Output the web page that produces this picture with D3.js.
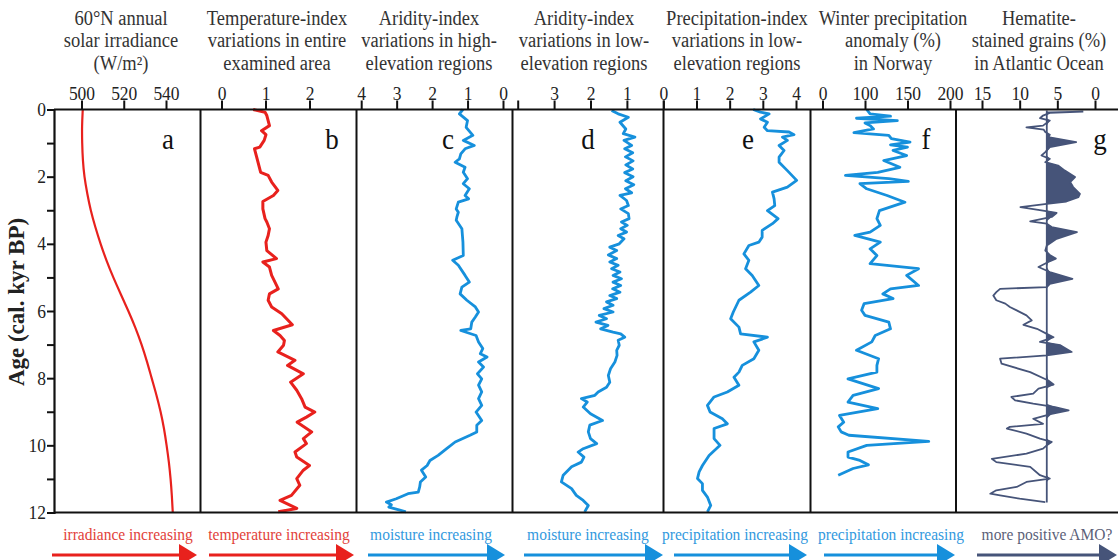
<!DOCTYPE html>
<html>
<head>
<meta charset="utf-8">
<script src="https://cdn.jsdelivr.net/npm/d3@7"></script>
<style>
	body { margin: 0; background: #fff; }
	svg text { font-family: "Liberation Serif", "Times New Roman", serif; }
	svg text.tall { transform-box: fill-box; transform-origin: center; transform: scaleY(1.08); }
</style>
</head>
<body>
<div id="chart"></div>
<script>
// age axis
const ageTicks = [0,1,2,3,4,5,6,7,8,9,10,11,12];

// a: 60N annual solar irradiance
const aAge = [0,0.5,1,1.5,2,2.5,3,3.5,4,4.5,5,5.5,6,6.5,7,7.5,8,8.5,9,9.5,10,10.5,11,11.5,12];
const aVal = [500.6,500.2,500.3,500.6,501.3,502.7,504.3,506.5,509,511.8,515,518.6,522.2,525.6,528.5,531,533.2,535.5,537.5,539.1,540.3,541.4,542.2,542.8,543.2];
const aTicks = [500,520,540];

// b: temperature index
const bAge = [0,0.08,0.18,0.48,0.63,0.75,0.92,1.12,1.17,1.47,1.87,1.96,2.16,2.41,2.56,2.74,2.96,3.25,3.35,3.55,3.75,3.95,4.2,4.44,4.54,4.69,4.94,5.34,5.49,5.68,5.88,6.08,6.41,6.58,6.73,6.88,7.02,7.22,7.47,7.62,7.87,8.12,8.36,8.61,8.86,9.01,9.16,9.31,9.6,9.8,9.95,10.2,10.35,10.6,10.74,10.99,11.19,11.49,11.64,11.88,11.98];
const bVal = [0.72,0.99,1.03,1.09,0.91,1.01,0.97,0.87,0.75,0.81,0.89,1.06,1.14,1.28,1.18,0.94,0.94,0.99,1.03,1.09,1.06,1.01,1.03,1.25,0.94,1.09,1.14,1.29,1.09,1.06,1.14,1.37,1.61,1.18,1.33,1.43,1.41,1.28,1.67,1.5,1.86,1.57,1.71,1.82,1.9,2.12,1.93,1.72,2.05,1.86,1.93,1.67,1.71,2.0,1.86,1.71,1.78,1.59,1.33,1.71,1.29];
const bTicks = [0,1,2];

// c: aridity index, high-elevation regions
const cAge = [0,0.13,0.33,0.53,0.77,0.92,1.07,1.17,1.32,1.47,1.57,1.72,1.87,2.06,2.21,2.36,2.56,2.66,2.76,2.96,3.06,3.2,3.3,3.55,3.95,4.35,4.49,4.64,4.94,5.14,5.29,5.49,5.68,5.88,6.03,6.18,6.33,6.53,6.58,6.73,6.92,7.12,7.27,7.37,7.52,7.67,7.87,8.02,8.21,8.41,8.61,8.81,9.01,9.26,9.4,9.6,9.7,9.9,10.1,10.3,10.45,10.6,10.74,10.94,11.09,11.24,11.39,11.44,11.59,11.69,11.77,11.84,11.93,11.98];
const cVal = [1.13,1.23,1.0,1.04,0.85,1.12,0.81,1.07,1.19,1.23,1.35,1.07,1.12,1.0,1.12,0.95,1.07,0.97,1.26,1.32,1.26,1.3,1.32,1.16,1.13,1.12,1.42,1.26,1.07,0.95,1.16,1.21,1.02,0.78,0.69,0.78,0.88,0.91,1.19,0.76,0.69,0.57,0.64,0.45,0.69,0.55,0.72,0.6,0.69,0.6,0.69,0.6,0.76,0.6,0.74,0.74,0.93,1.35,1.59,1.83,2.06,2.14,2.3,2.18,2.33,2.35,2.39,2.68,3.01,3.29,3.15,3.22,2.91,2.74];
const cTicks = [4,3,2,1,0];

// d: aridity index, low-elevation regions
const dAge = [0.03,0.13,0.23,0.38,0.58,0.72,0.82,0.92,1.07,1.17,1.29,1.41,1.53,1.65,1.77,1.88,2.0,2.12,2.24,2.36,2.48,2.56,2.71,2.86,2.96,3.1,3.25,3.35,3.45,3.55,3.65,3.75,3.85,4.0,4.1,4.2,4.33,4.44,4.54,4.64,4.74,4.84,4.94,5.04,5.14,5.24,5.34,5.44,5.54,5.63,5.73,5.83,5.93,6.03,6.13,6.23,6.33,6.43,6.53,6.63,6.68,6.78,6.87,7.02,7.17,7.32,7.52,7.72,7.92,8.12,8.27,8.41,8.51,8.61,8.71,8.86,9.06,9.26,9.4,9.6,9.8,9.95,10.1,10.2,10.35,10.5,10.64,10.89,11.09,11.29,11.49,11.64,11.79,11.98];
const dVal = [1.42,1.24,0.96,1.19,1.03,1.1,0.78,1.08,0.87,1.06,0.84,1.04,0.83,1.03,0.84,1.06,0.83,1.03,0.81,1.04,0.87,1.19,1.01,0.96,1.17,0.96,0.94,1.15,0.99,1.17,1.01,1.24,1.08,1.21,1.47,1.28,1.51,1.28,1.47,1.24,1.42,1.19,1.38,1.15,1.38,1.17,1.39,1.19,1.47,1.28,1.56,1.38,1.63,1.38,1.76,1.56,1.85,1.52,1.72,1.38,1.17,1.06,1.24,1.21,1.28,1.27,1.33,1.45,1.51,1.47,1.56,1.79,1.88,2.25,2.09,2.2,2.0,1.67,2.02,2.06,2.0,1.83,2.2,2.34,2.18,2.25,2.52,2.75,2.8,2.52,2.39,2.2,2.06,2.16];
const dTicks = [4,3,2,1,0];
const dTickLabels = ["","3","2","1",""];

// e: precipitation index, low-elevation regions
const eAge = [0,0.08,0.13,0.28,0.38,0.53,0.63,0.67,0.75,0.82,0.92,1.07,1.22,1.42,1.57,1.82,2.11,2.31,2.46,2.66,2.86,3.01,3.25,3.4,3.6,3.8,3.95,4.05,4.3,4.49,4.74,4.94,5.24,5.44,5.68,6.03,6.23,6.48,6.68,6.78,6.92,7.17,7.42,7.62,7.82,7.97,8.21,8.41,8.56,8.81,9.01,9.21,9.36,9.5,9.8,10.0,10.3,10.6,10.79,10.99,11.14,11.34,11.54,11.79,11.98];
const eVal = [2.71,2.93,3.19,2.93,3.14,3.04,3.14,3.79,3.94,3.59,3.74,3.49,3.64,3.49,3.49,3.74,4.02,3.74,3.29,3.34,3.36,3.14,3.46,3.29,2.98,2.98,2.88,2.58,2.43,2.58,2.48,2.68,2.88,2.63,2.28,2.11,2.03,2.28,2.33,3.14,2.73,2.88,2.73,2.38,2.28,2.13,2.28,1.93,1.53,1.33,1.41,1.78,1.93,1.53,1.53,1.71,1.38,1.18,1.08,1.03,1.18,1.18,1.33,1.43,1.33];
const eTicks = [0,1,2,3,4];

// f: winter precipitation anomaly in Norway
const fAge = [0,0.13,0.2,0.26,0.33,0.4,0.48,0.58,0.69,0.77,0.87,0.97,1.05,1.12,1.22,1.37,1.52,1.72,1.87,1.96,2.06,2.14,2.21,2.36,2.56,2.76,3.01,3.25,3.45,3.65,3.75,3.95,4.15,4.35,4.59,4.74,4.94,5.24,5.34,5.49,5.63,5.78,5.98,6.13,6.33,6.53,6.73,6.92,7.17,7.42,7.62,7.82,8.02,8.31,8.51,8.71,8.91,9.11,9.31,9.45,9.6,9.7,9.88,10.0,10.2,10.35,10.45,10.58,10.69,10.89];
const fVal = [102,106,130,90,138,100,106,110,87,128,131,153,130,150,133,149,122,141,115,77,128,151,94,102,126,147,117,114,118,106,88,118,106,114,106,163,149,163,130,121,133,99,96,100,128,130,112,108,90,116,114,114,80,116,86,80,115,70,75,68.5,72,81,175,102,80,80,94,104,86,68.5];
const fTicks = [50,100,150,200];
const fTickLabels = ["0","100","150","200"];

// g: hematite-stained grains in the Atlantic
const gAge = [0.06,0.1,0.18,0.26,0.33,0.48,0.53,0.6,0.67,0.75,0.82,0.97,1.12,1.27,1.37,1.47,1.57,1.67,1.82,2.01,2.16,2.31,2.51,2.61,2.74,2.81,2.91,3.01,3.08,3.2,3.33,3.4,3.5,3.65,3.85,4.05,4.2,4.33,4.44,4.54,4.69,4.84,5.04,5.19,5.29,5.34,5.44,5.54,5.68,5.78,5.88,5.98,6.13,6.28,6.41,6.53,6.68,6.78,6.92,7.02,7.22,7.32,7.42,7.57,7.82,8.07,8.19,8.31,8.46,8.56,8.66,8.76,8.86,8.96,9.06,9.21,9.36,9.45,9.5,9.65,9.8,9.9,10.0,10.1,10.25,10.4,10.5,10.64,10.89,10.99,11.09,11.24,11.34,11.44,11.49,11.59,11.69];
const gVal = [1.55,6.0,6.9,7.3,6.0,6.9,9.1,6.8,6.6,6.0,6.2,2.5,6.0,6.6,7.1,6.0,6.6,4.9,4.0,2.65,3.3,2.9,2.0,2.2,3.8,6.4,9.9,6.9,5.1,5.75,8.6,6.4,5.75,2.4,5.1,6.4,6.6,6.0,5.2,6.2,7.5,6.0,3.0,6.0,6.4,12.6,13.1,13.5,13.1,11.9,11.3,10.4,9.1,8.4,9.5,7.7,6.4,5.5,7.3,4.6,3.1,6.4,12.6,12.4,8.6,6.2,5.5,7.5,8.2,11.1,10.6,8.2,5.3,3.5,5.75,8.2,6.9,11.3,11.7,9.1,7.3,5.75,6.4,6.9,9.1,13.7,13.1,8.6,7.3,6.0,9.1,10.4,13.1,13.9,12.6,10.0,6.6];
const gBase = 6.4;
const gBaseAge = [0.03,11.7];
const gTicks = [15,10,5,0];

const titles = [
	["60°N annual", "solar  irradiance", "(W/m²)"],
	["Temperature-index", "variations in entire", "examined area"],
	["Aridity-index", "variations in high-", "elevation regions"],
	["Aridity-index", "variations in low-", "elevation regions"],
	["Precipitation-index", "variations in low-", "elevation regions"],
	["Winter precipitation", "anomaly (%)", "in Norway"],
	["Hematite-", "stained grains (%)", "in Atlantic Ocean"]
];
const notes = ["irradiance increasing", "temperature increasing", "moisture increasing", "moisture increasing",
	"precipitation increasing", "precipitation increasing", "more positive AMO?"];
const letters = ["a","b","c","d","e","f","g"];

const RED = "#e8211d", RED_TXT = "#e2423a";
const BLUE = "#1690dc", BLUE_TXT = "#3299de";
const SLATE = "#465479", SLATE_TXT = "#5b5f78";

const width = 1118, height = 560;
const yTop = 109.5, yBottom = 512.5, axisX = 54;

const svg = d3.select("#chart").append("svg")
	.attr("width", width).attr("height", height);

const y = d3.scaleLinear().domain([0, 12]).range([yTop, yBottom]);

const panels = [
	{ left: 54, right: 200.5, dom: [500, 540], rng: [81.5, 166], ticks: aTicks, age: aAge, val: aVal,
		color: RED, lw: 2.2, curve: d3.curveBasis, tx: 121, lx: 168, txt: RED_TXT, nx: 128, arrow: [52, 197] },
	{ left: 200.5, right: 356.5, dom: [0, 2], rng: [221.5, 309.5], ticks: bTicks, age: bAge, val: bVal,
		color: RED, lw: 3, tx: 277, lx: 332, txt: RED_TXT, nx: 279, arrow: [209, 354] },
	{ left: 356.5, right: 512.5, dom: [4, 0], rng: [361.2, 503], ticks: cTicks, age: cAge, val: cVal,
		color: BLUE, lw: 2.8, tx: 429, lx: 448, txt: BLUE_TXT, nx: 431, arrow: [368, 505] },
	{ left: 512.5, right: 663.5, dom: [4, 0], rng: [517.7, 663.3], ticks: dTicks, labels: dTickLabels, age: dAge, val: dVal,
		color: BLUE, lw: 2.8, tx: 584, lx: 588, txt: BLUE_TXT, nx: 588, arrow: [524, 663] },
	{ left: 663.5, right: 810.5, dom: [0, 4], rng: [663.3, 796], ticks: eTicks, age: eAge, val: eVal,
		color: BLUE, lw: 2.8, tx: 737, lx: 748, txt: BLUE_TXT, nx: 735, arrow: [674, 807] },
	{ left: 810.5, right: 956, dom: [100, 200], rng: [865, 950], ticks: fTicks, labels: fTickLabels, age: fAge, val: fVal,
		color: BLUE, lw: 2.8, tx: 893, lx: 926, txt: BLUE_TXT, nx: 891, arrow: [824, 955] },
	{ left: 956, right: 1118, dom: [15, 0], rng: [982, 1095], ticks: gTicks, age: gAge, val: gVal,
		color: SLATE, lw: 1.8, tx: 1039, lx: 1100, txt: SLATE_TXT, nx: 1047, arrow: [977, 1117] }
];

panels.forEach((p, i) => {
	const x = d3.scaleLinear().domain(p.dom).range(p.rng);
	const pts = p.age.map((a, k) => [a, p.val[k]]);

	// top axis
	const ax = svg.append("g")
		.attr("transform", "translate(0," + yTop + ")")
		.call(d3.axisTop(x).tickValues(p.ticks).tickSize(9).tickPadding(1)
			.tickFormat((d, k) => p.labels ? p.labels[k] : d));
	ax.select(".domain").remove();
	ax.selectAll("line").attr("stroke", "#111").attr("stroke-width", 2);
	ax.selectAll("text").attr("class", "tall").attr("font-size", 17.5).attr("fill", "#222")
		.style("font-family", "'Liberation Serif', serif");

	// titles
	titles[i].forEach((t, k) => {
		svg.append("text").attr("class", "tall").attr("x", p.tx).attr("y", 24.5 + k * 22.5)
			.attr("text-anchor", "middle").attr("font-size", 18.5).attr("fill", "#333")
			.text(t);
	});

	// data
	const g = svg.append("g");
	if (i == 6) {
		const area = d3.area()
			.y(d => y(d[0]))
			.x0(x(gBase))
			.x1(d => x(Math.min(d[1], gBase)));
		g.append("path").datum(pts).attr("d", area).attr("fill", p.color);
		g.append("line")
			.attr("x1", x(gBase)).attr("x2", x(gBase))
			.attr("y1", y(gBaseAge[0])).attr("y2", y(gBaseAge[1]))
			.attr("stroke", p.color).attr("stroke-width", 1.8);
	}
	const line = d3.line().x(d => x(d[1])).y(d => y(d[0])).curve(p.curve || d3.curveLinear);
	g.append("path").datum(pts).attr("d", line)
		.attr("fill", "none").attr("stroke", p.color).attr("stroke-width", p.lw)
		.attr("stroke-linejoin", "round");

	// letter
	svg.append("text").attr("class", "tall").attr("x", p.lx).attr("y", 148).attr("text-anchor", "middle")
		.attr("font-size", 27).attr("fill", "#111").text(letters[i]);

	// divider
	if (i > 0) {
		svg.append("line").attr("x1", p.left).attr("x2", p.left).attr("y1", yTop).attr("y2", yBottom)
			.attr("stroke", "#111").attr("stroke-width", 2);
	}

	// note + arrow
	svg.append("text").attr("class", "tall").attr("x", p.nx).attr("y", 540)
		.attr("text-anchor", "middle").attr("font-size", 15.5).attr("fill", p.txt)
		.text(notes[i]);
	const ac = i == 6 ? SLATE : p.color;
	svg.append("line").attr("x1", p.arrow[0]).attr("x2", p.arrow[1] - 16)
		.attr("y1", 555).attr("y2", 555).attr("stroke", ac).attr("stroke-width", 3);
	svg.append("polygon")
		.attr("points", [[p.arrow[1], 555], [p.arrow[1] - 18, 544], [p.arrow[1] - 18, 566]].join(" "))
		.attr("fill", ac);
});

// frame
svg.append("line").attr("x1", axisX).attr("x2", width).attr("y1", yTop).attr("y2", yTop)
	.attr("stroke", "#111").attr("stroke-width", 2);
svg.append("line").attr("x1", axisX).attr("x2", width).attr("y1", yBottom).attr("y2", yBottom)
	.attr("stroke", "#111").attr("stroke-width", 2);

const yAx = svg.append("g")
	.attr("transform", "translate(" + axisX + ",0)")
	.call(d3.axisLeft(y).tickValues(ageTicks).tickSize(7).tickPadding(1)
		.tickFormat(d => d % 2 == 0 ? d : ""));
yAx.select(".domain").attr("stroke", "#111").attr("stroke-width", 2.2);
yAx.selectAll("line").attr("stroke", "#111").attr("stroke-width", 2);
yAx.selectAll("text").attr("class", "tall").attr("font-size", 17.5).attr("fill", "#222")
	.style("font-family", "'Liberation Serif', serif");

svg.append("text")
	.attr("transform", "translate(24,302) rotate(-90)")
	.attr("text-anchor", "middle").attr("font-size", 23).attr("font-weight", "bold")
	.attr("fill", "#222").text("Age (cal. kyr BP)");
</script>
</body>
</html>
